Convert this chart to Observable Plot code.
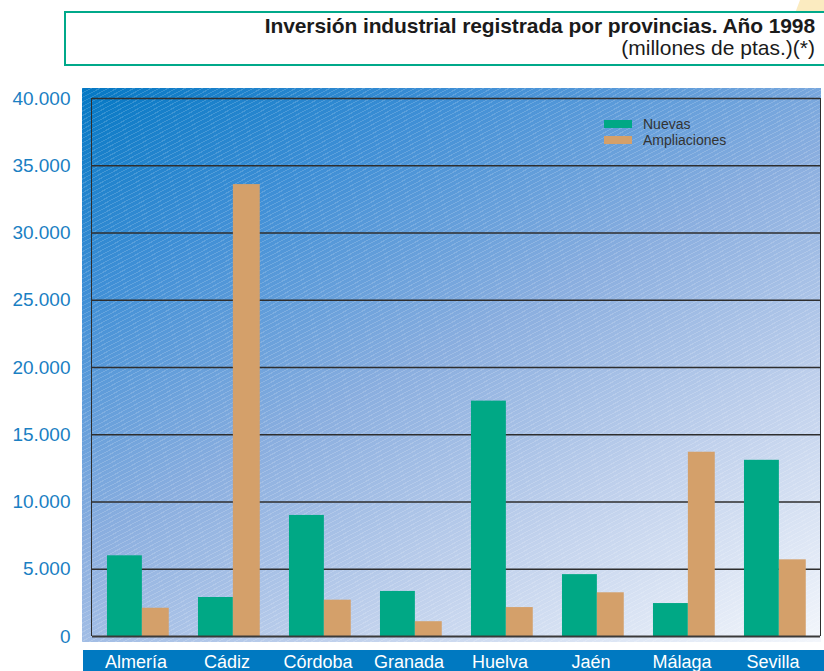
<!DOCTYPE html>
<html>
<head>
<meta charset="utf-8">
<script src="https://cdn.jsdelivr.net/npm/d3@7"></script>
<script src="https://cdn.jsdelivr.net/npm/@observablehq/plot@0.6"></script>
<style>
  html, body { margin: 0; padding: 0; background: #fff; }
  body { width: 824px; height: 671px; position: relative; overflow: hidden;
         font-family: "Liberation Sans", Arial, Helvetica, sans-serif; }
  .abs { position: absolute; }
  #patch { left: 794px; top: 0; width: 30px; height: 16px; background: #fbebc0;
           clip-path: polygon(20% 0, 100% 0, 100% 100%, 0 100%); }
  #titlebox { left: 64px; top: 11px; width: 780px; height: 51px;
              border: 2.5px solid #00a98a; background: #fff; }
  #title { right: 9px; top: 14px; text-align: right; color: #1b1b1b; white-space: nowrap; }
  #title .t1 { font-weight: bold; font-size: 21px; line-height: 23px; letter-spacing: -0.1px; }
  #title .t2 { font-size: 21px; line-height: 22px; }
  #bg { left: 82px; top: 88px; width: 739px; height: 554px;
        background:
          repeating-linear-gradient(-28deg, rgba(255,255,255,0) 0px, rgba(255,255,255,0) 3px, rgba(255,255,255,0.16) 3px, rgba(255,255,255,0.16) 4px),
          linear-gradient(152deg, #0478c4 0%, #3f8fd6 22%, #8aaedf 48%, #bfd0ec 72%, #f3f6fb 100%); }
  #frame { left: 91px; top: 98px; width: 727.5px; height: 538px;
           border-left: 1.5px solid #2e2e2e; border-right: 1.5px solid #2e2e2e; }
  #band { left: 83px; top: 650px; width: 741px; height: 21px; background: #0079c1; }
  #chart { left: 0; top: 0; }
  #legend { left: 604px; top: 116px; font-size: 14px; color: #333; }
  #legend .row { display: flex; align-items: center; height: 16px; }
  #legend .sw { width: 28px; height: 8px; margin-right: 11px; }
</style>
</head>
<body>
<div id="patch" class="abs"></div>
<div id="titlebox" class="abs"></div>
<div id="title" class="abs">
  <div class="t1">Inversión industrial registrada por provincias. Año 1998</div>
  <div class="t2">(millones de ptas.)(*)</div>
</div>
<div id="bg" class="abs"></div>
<div id="band" class="abs"></div>
<div id="frame" class="abs"></div>
<div id="chart" class="abs"></div>
<div id="legend" class="abs"></div>
<script>
const provinces = ["Almería", "Cádiz", "Córdoba", "Granada", "Huelva", "Jaén", "Málaga", "Sevilla"];
const series = ["Nuevas", "Ampliaciones"];
const nuevas = [6000, 2900, 9000, 3350, 17500, 4600, 2450, 13100];
const ampliaciones = [2100, 33600, 2700, 1100, 2150, 3250, 13700, 5700];
const yTicks = [0, 5000, 10000, 15000, 20000, 25000, 30000, 35000, 40000];
const colors = ["#00a885", "#d4a06a"];

const es = d3.formatLocale({decimal: ",", thousands: ".", grouping: [3], currency: ["", " €"]});
const fmt = es.format(",d");

const rowsN = provinces.map((p, i) => ({province: p, serie: series[0], value: nuevas[i]}));
const rowsA = provinces.map((p, i) => ({province: p, serie: series[1], value: ampliaciones[i]}));

const chart = Plot.plot({
  width: 824,
  height: 671,
  marginLeft: 91,
  marginRight: 3,
  marginTop: 98,
  marginBottom: 35,
  style: {background: "transparent", fontFamily: "'Liberation Sans', Arial, Helvetica, sans-serif", fontSize: "18px"},
  fx: {domain: provinces, padding: 0, label: null},
  x: {domain: series, paddingInner: 0, paddingOuter: 0.304, align: 0.706, round: false, axis: null},
  y: {domain: [0, 40000], label: null},
  color: {domain: series, range: colors},
  marks: [
    Plot.ruleY(yTicks.slice(1), {stroke: "#2e2e2e", strokeWidth: 1.5}),
    Plot.barY(rowsN, {fx: "province", x: "serie", y: "value", fill: "serie"}),
    Plot.barY(rowsA, {fx: "province", x: "serie", y: "value", fill: "serie", insetRight: 8}),
    Plot.ruleY([0], {stroke: "#3a3a3a", strokeWidth: 2.2}),
    Plot.axisY(yTicks, {tickFormat: fmt, tickSize: 0, tickPadding: 22, fill: "#1a80c3", fontSize: 19, label: null}),
    Plot.axisFx({anchor: "bottom", tickSize: 0, tickPadding: 19, dx: -2, fill: "#ffffff", fontSize: 18, label: null})
  ]
});
document.getElementById("chart").appendChild(chart);

const legend = document.getElementById("legend");
series.forEach((s, i) => {
  const row = document.createElement("div");
  row.className = "row";
  const sw = document.createElement("div");
  sw.className = "sw";
  sw.style.background = colors[i];
  const label = document.createElement("span");
  label.textContent = s;
  row.appendChild(sw);
  row.appendChild(label);
  legend.appendChild(row);
});
</script>
</body>
</html>
